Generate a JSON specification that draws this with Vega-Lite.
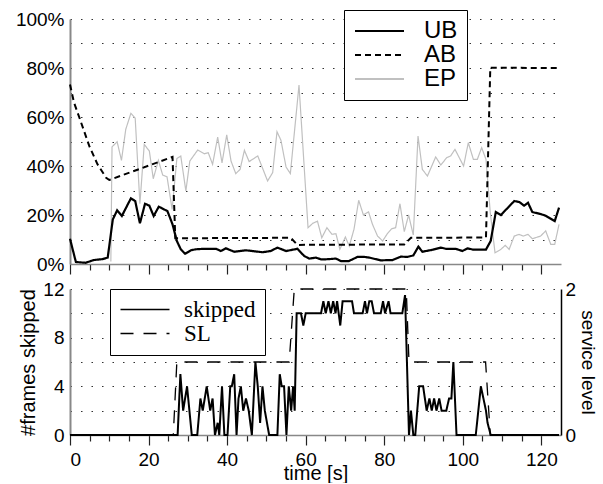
{
"$schema":"https://vega.github.io/schema/vega-lite/v6.json",
"padding":{"left":15,"top":9,"right":0,"bottom":0},
"background":"white",
"config":{"font":"Liberation Sans","view":{"stroke":null},
 "axis":{"labelFont":"Liberation Sans","titleFont":"Liberation Sans","labelFontSize":19,"titleFontSize":20,"titleFontWeight":"normal","labelColor":"#000","titleColor":"#000","domainColor":"#888","domainWidth":1.5,"tickColor":"#222","gridColor":"#333","gridDash":[1.5,9],"gridWidth":1.2,"gridOpacity":1},
 "line":{"strokeJoin":"miter","strokeCap":"butt"}},
"datasets":{
"top":[
{"t":0,"s":"UB","v":10.3},{"t":1.5,"s":"UB","v":0.8},{"t":4,"s":"UB","v":0.5},{"t":6,"s":"UB","v":1.6},{"t":8.3,"s":"UB","v":2},{"t":9.6,"s":"UB","v":2.6},{"t":10.9,"s":"UB","v":18.2},{"t":12,"s":"UB","v":21.9},{"t":13.2,"s":"UB","v":19.6},{"t":15.5,"s":"UB","v":26.8},{"t":16.6,"s":"UB","v":25.7},{"t":17.8,"s":"UB","v":16.6},{"t":19.1,"s":"UB","v":24.6},{"t":20.2,"s":"UB","v":23.8},{"t":21.3,"s":"UB","v":19.6},{"t":22.6,"s":"UB","v":23.4},{"t":24.8,"s":"UB","v":21.6},{"t":26.1,"s":"UB","v":16.2},{"t":27.2,"s":"UB","v":9.4},{"t":28.2,"s":"UB","v":6},{"t":29.3,"s":"UB","v":4.2},{"t":30.8,"s":"UB","v":5.6},{"t":32,"s":"UB","v":6},{"t":34.2,"s":"UB","v":6.2},{"t":37.2,"s":"UB","v":6.2},{"t":38.4,"s":"UB","v":5.3},{"t":39.7,"s":"UB","v":6.4},{"t":41.8,"s":"UB","v":5},{"t":44.8,"s":"UB","v":5.6},{"t":49,"s":"UB","v":4.8},{"t":51.1,"s":"UB","v":5.3},{"t":52.8,"s":"UB","v":6.7},{"t":55,"s":"UB","v":5.3},{"t":57.9,"s":"UB","v":6.2},{"t":59.6,"s":"UB","v":3.3},{"t":60.9,"s":"UB","v":2.2},{"t":62.6,"s":"UB","v":2.6},{"t":63.9,"s":"UB","v":1.9},{"t":65.1,"s":"UB","v":1.9},{"t":67.7,"s":"UB","v":2.2},{"t":69,"s":"UB","v":1.2},{"t":71,"s":"UB","v":1.2},{"t":73.2,"s":"UB","v":2.9},{"t":74.9,"s":"UB","v":2.9},{"t":76.2,"s":"UB","v":2.6},{"t":79.1,"s":"UB","v":1.5},{"t":82.1,"s":"UB","v":1.6},{"t":84.2,"s":"UB","v":3},{"t":85.9,"s":"UB","v":2.9},{"t":87.4,"s":"UB","v":3.5},{"t":88.7,"s":"UB","v":7.1},{"t":89.7,"s":"UB","v":5},{"t":92.3,"s":"UB","v":5.8},{"t":94.4,"s":"UB","v":6.7},{"t":95.7,"s":"UB","v":6.2},{"t":98.2,"s":"UB","v":6.2},{"t":99.9,"s":"UB","v":5.3},{"t":101.2,"s":"UB","v":6.4},{"t":102.5,"s":"UB","v":5.9},{"t":105.9,"s":"UB","v":5.9},{"t":107.1,"s":"UB","v":9.4},{"t":108.4,"s":"UB","v":21.2},{"t":109.7,"s":"UB","v":20},{"t":113.1,"s":"UB","v":25.7},{"t":114.4,"s":"UB","v":25.3},{"t":115.6,"s":"UB","v":23.8},{"t":116.6,"s":"UB","v":25},{"t":117.7,"s":"UB","v":21.2},{"t":119.8,"s":"UB","v":20.4},{"t":121.1,"s":"UB","v":19.7},{"t":123.4,"s":"UB","v":17.5},{"t":124.5,"s":"UB","v":23},
{"t":0,"s":"AB","v":73.3},{"t":1,"s":"AB","v":66},{"t":2.4,"s":"AB","v":59.7},{"t":4.9,"s":"AB","v":48.2},{"t":7,"s":"AB","v":40.7},{"t":9.2,"s":"AB","v":35.2},{"t":10,"s":"AB","v":34.3},{"t":26.1,"s":"AB","v":43.7},{"t":26.8,"s":"AB","v":10.5},{"t":56.2,"s":"AB","v":10.7},{"t":57.9,"s":"AB","v":7.8},{"t":85.1,"s":"AB","v":8},{"t":86.8,"s":"AB","v":10.7},{"t":105.9,"s":"AB","v":10.8},{"t":107,"s":"AB","v":80.1},{"t":124.5,"s":"AB","v":80},
{"t":10.4,"s":"EP","v":1},{"t":10.7,"s":"EP","v":47.8},{"t":12,"s":"EP","v":49.9},{"t":13.1,"s":"EP","v":42.3},{"t":14.2,"s":"EP","v":55},{"t":15.5,"s":"EP","v":61.5},{"t":16.6,"s":"EP","v":59.5},{"t":17.8,"s":"EP","v":24.6},{"t":18.9,"s":"EP","v":48.8},{"t":20.2,"s":"EP","v":46.1},{"t":21.2,"s":"EP","v":34.8},{"t":22.5,"s":"EP","v":42.3},{"t":23.6,"s":"EP","v":36.3},{"t":24.7,"s":"EP","v":35.6},{"t":26,"s":"EP","v":22.3},{"t":27.2,"s":"EP","v":43},{"t":28.2,"s":"EP","v":44.1},{"t":29.5,"s":"EP","v":29.8},{"t":30.5,"s":"EP","v":42},{"t":32.5,"s":"EP","v":46.5},{"t":34.2,"s":"EP","v":45},{"t":35.2,"s":"EP","v":45.4},{"t":36.3,"s":"EP","v":40.7},{"t":37.6,"s":"EP","v":51.8},{"t":38.7,"s":"EP","v":41.3},{"t":39.9,"s":"EP","v":52.7},{"t":41,"s":"EP","v":42},{"t":42.2,"s":"EP","v":36.9},{"t":43.3,"s":"EP","v":38.6},{"t":44.4,"s":"EP","v":46.4},{"t":45.6,"s":"EP","v":41.8},{"t":47.8,"s":"EP","v":44.1},{"t":50.3,"s":"EP","v":33.9},{"t":51.6,"s":"EP","v":37.3},{"t":52.7,"s":"EP","v":54},{"t":53.7,"s":"EP","v":50.5},{"t":55,"s":"EP","v":39.6},{"t":56.1,"s":"EP","v":36.9},{"t":58.3,"s":"EP","v":73},{"t":60.6,"s":"EP","v":14.8},{"t":61.8,"s":"EP","v":16.6},{"t":63,"s":"EP","v":17.5},{"t":64.1,"s":"EP","v":10.7},{"t":65.4,"s":"EP","v":14.8},{"t":66.7,"s":"EP","v":12.1},{"t":67.7,"s":"EP","v":12.4},{"t":68.7,"s":"EP","v":6},{"t":70.1,"s":"EP","v":11},{"t":71.1,"s":"EP","v":7.3},{"t":72.3,"s":"EP","v":14.2},{"t":73.5,"s":"EP","v":26},{"t":74.7,"s":"EP","v":20},{"t":76,"s":"EP","v":21.3},{"t":77,"s":"EP","v":16.2},{"t":78.3,"s":"EP","v":11.4},{"t":79.6,"s":"EP","v":9.4},{"t":80.8,"s":"EP","v":12.4},{"t":81.9,"s":"EP","v":14.4},{"t":82.9,"s":"EP","v":14.8},{"t":84,"s":"EP","v":24.6},{"t":85.1,"s":"EP","v":13.2},{"t":86.2,"s":"EP","v":20},{"t":87.4,"s":"EP","v":11.8},{"t":88.6,"s":"EP","v":52.2},{"t":89.7,"s":"EP","v":38.6},{"t":91,"s":"EP","v":35.9},{"t":93.1,"s":"EP","v":43.7},{"t":94.4,"s":"EP","v":40.4},{"t":95.9,"s":"EP","v":43.4},{"t":96.9,"s":"EP","v":44.1},{"t":98,"s":"EP","v":46.8},{"t":99.1,"s":"EP","v":43.4},{"t":100.2,"s":"EP","v":40},{"t":101.4,"s":"EP","v":49.5},{"t":102.7,"s":"EP","v":42.7},{"t":103.7,"s":"EP","v":42.7},{"t":104.8,"s":"EP","v":47.5},{"t":105.9,"s":"EP","v":42.7},{"t":107,"s":"EP","v":20.9},{"t":108.2,"s":"EP","v":4.6},{"t":109.7,"s":"EP","v":6},{"t":110.8,"s":"EP","v":7.6},{"t":111.8,"s":"EP","v":6},{"t":113.1,"s":"EP","v":11.4},{"t":114.3,"s":"EP","v":12.1},{"t":115.4,"s":"EP","v":11.4},{"t":116.6,"s":"EP","v":12.1},{"t":117.7,"s":"EP","v":10.3},{"t":119.8,"s":"EP","v":11.4},{"t":121.1,"s":"EP","v":13.5},{"t":122.4,"s":"EP","v":8},{"t":123.4,"s":"EP","v":8},{"t":124.5,"s":"EP","v":16.2}
],
"bottom":[
{"t":0,"k":"skipped","v":0},{"t":27.4,"k":"skipped","v":0},{"t":28.1,"k":"skipped","v":5},{"t":28.8,"k":"skipped","v":2},{"t":29.8,"k":"skipped","v":4},{"t":31,"k":"skipped","v":0},{"t":32.4,"k":"skipped","v":0},{"t":33.2,"k":"skipped","v":3},{"t":33.8,"k":"skipped","v":2},{"t":34.8,"k":"skipped","v":4},{"t":35.7,"k":"skipped","v":2},{"t":36.3,"k":"skipped","v":3},{"t":36.9,"k":"skipped","v":0},{"t":37.6,"k":"skipped","v":1},{"t":38,"k":"skipped","v":0},{"t":38.7,"k":"skipped","v":4},{"t":39.3,"k":"skipped","v":0},{"t":40.1,"k":"skipped","v":0},{"t":40.8,"k":"skipped","v":4},{"t":41.2,"k":"skipped","v":4},{"t":41.8,"k":"skipped","v":5},{"t":42.4,"k":"skipped","v":0},{"t":42.9,"k":"skipped","v":3},{"t":43.5,"k":"skipped","v":4},{"t":44.1,"k":"skipped","v":2},{"t":44.8,"k":"skipped","v":3},{"t":45.5,"k":"skipped","v":2},{"t":46.3,"k":"skipped","v":0},{"t":47.2,"k":"skipped","v":6},{"t":47.8,"k":"skipped","v":4},{"t":48.4,"k":"skipped","v":1},{"t":49,"k":"skipped","v":4},{"t":49.6,"k":"skipped","v":2},{"t":50.7,"k":"skipped","v":0},{"t":52.8,"k":"skipped","v":0},{"t":53.4,"k":"skipped","v":5},{"t":53.9,"k":"skipped","v":4},{"t":54.5,"k":"skipped","v":4},{"t":55.1,"k":"skipped","v":0},{"t":55.7,"k":"skipped","v":4},{"t":56.3,"k":"skipped","v":2},{"t":56.8,"k":"skipped","v":4},{"t":57.2,"k":"skipped","v":2},{"t":57.7,"k":"skipped","v":10},{"t":58.8,"k":"skipped","v":10},{"t":59.4,"k":"skipped","v":9},{"t":60,"k":"skipped","v":10},{"t":63.9,"k":"skipped","v":10},{"t":64.5,"k":"skipped","v":11},{"t":65.1,"k":"skipped","v":10},{"t":65.8,"k":"skipped","v":11},{"t":66.4,"k":"skipped","v":10},{"t":67,"k":"skipped","v":11},{"t":67.6,"k":"skipped","v":10},{"t":68,"k":"skipped","v":11},{"t":68.8,"k":"skipped","v":9},{"t":69.4,"k":"skipped","v":11},{"t":71.8,"k":"skipped","v":11},{"t":72.3,"k":"skipped","v":10},{"t":74.5,"k":"skipped","v":10},{"t":75.1,"k":"skipped","v":11},{"t":75.6,"k":"skipped","v":10},{"t":76.2,"k":"skipped","v":11},{"t":76.8,"k":"skipped","v":11},{"t":77.4,"k":"skipped","v":10},{"t":79.1,"k":"skipped","v":10},{"t":79.7,"k":"skipped","v":11},{"t":80.2,"k":"skipped","v":10},{"t":81.1,"k":"skipped","v":11},{"t":81.6,"k":"skipped","v":10},{"t":84.6,"k":"skipped","v":10},{"t":85.3,"k":"skipped","v":11.5},{"t":86.3,"k":"skipped","v":0},{"t":86.8,"k":"skipped","v":2},{"t":87.4,"k":"skipped","v":0},{"t":87.9,"k":"skipped","v":0},{"t":88.9,"k":"skipped","v":4},{"t":89.9,"k":"skipped","v":4},{"t":90.8,"k":"skipped","v":2},{"t":91.5,"k":"skipped","v":3},{"t":92.1,"k":"skipped","v":2},{"t":92.7,"k":"skipped","v":3},{"t":93.3,"k":"skipped","v":2},{"t":94,"k":"skipped","v":3},{"t":94.6,"k":"skipped","v":2},{"t":95.8,"k":"skipped","v":2},{"t":96.5,"k":"skipped","v":3},{"t":97.1,"k":"skipped","v":3},{"t":97.6,"k":"skipped","v":6},{"t":98.4,"k":"skipped","v":0},{"t":103.3,"k":"skipped","v":0},{"t":104.6,"k":"skipped","v":4},{"t":105.9,"k":"skipped","v":2},{"t":106.3,"k":"skipped","v":1},{"t":107.1,"k":"skipped","v":0},{"t":124.5,"k":"skipped","v":0},
{"t":0,"k":"SL","v":0},{"t":26.3,"k":"SL","v":0},{"t":27.2,"k":"SL","v":1},{"t":55.8,"k":"SL","v":1},{"t":57.1,"k":"SL","v":2},{"t":85.6,"k":"SL","v":2},{"t":86.3,"k":"SL","v":1},{"t":105.8,"k":"SL","v":1},{"t":107,"k":"SL","v":0},{"t":124.5,"k":"SL","v":0}
]
},
"spacing":25,
"bounds":"flush",
"resolve":{"scale":{"color":"independent","strokeDash":"independent","strokeWidth":"independent","x":"independent"},"legend":{"color":"independent","strokeDash":"independent","strokeWidth":"independent"}},
"vconcat":[
{
 "width":491,"height":245,
 "data":{"name":"top"},
 "encoding":{
  "x":{"field":"t","type":"quantitative","scale":{"domain":[0,125],"nice":false,"zero":false},
   "axis":{"values":[0,5,10,15,20,25,30,35,40,45,50,55,60,65,70,75,80,85,90,95,100,105,110,115,120],"labels":false,"title":null,"grid":false,"tickWidth":1.2,
    "tickSize":{"condition":{"test":"datum.value % 20 === 0","value":10},"value":6}}},
  "y":{"field":"v","type":"quantitative","scale":{"domain":[0,100],"nice":false},
   "axis":{"values":[0,10,20,30,40,50,60,70,80,90,100],"labelExpr":"datum.value % 20 === 0 ? datum.value + '%' : ''","ticks":false,"labelPadding":6,"grid":true,"title":null,"domainWidth":2}},
  "color":{"field":"s","type":"nominal","scale":{"domain":["UB","AB","EP"],"range":["#000000","#000000","#c0c0c0"]},
   "legend":{"title":null,"orient":"none","legendX":274,"legendY":-9,"strokeColor":"#000","fillColor":"#fff","padding":9,"labelFont":"Liberation Sans","labelFontSize":24,"labelColor":"#000","symbolType":"M-1,0H3.9","symbolSize":400,"rowPadding":0,"labelOffset":47,"symbolStrokeWidth":2}},
  "strokeDash":{"field":"s","type":"nominal","scale":{"domain":["UB","AB","EP"],"range":[[1,0],[6,4],[1,0]]},
   "legend":{"title":null,"orient":"none","legendX":274,"legendY":-9,"strokeColor":"#000","fillColor":"#fff","padding":9,"labelFont":"Liberation Sans","labelFontSize":24,"labelColor":"#000","symbolType":"M-1,0H3.9","symbolSize":400,"rowPadding":0,"labelOffset":47,"symbolStrokeWidth":2}}
 },
 "layer":[
  {"transform":[{"filter":"datum.s === 'EP'"}],"mark":{"type":"line","strokeWidth":1.2}},
  {"transform":[{"filter":"datum.s === 'AB'"}],"mark":{"type":"line","strokeWidth":2}},
  {"transform":[{"filter":"datum.s === 'UB'"}],"mark":{"type":"line","strokeWidth":2.2}}
 ]
},
{
 "width":491,"height":146,
 "data":{"name":"bottom"},
 "encoding":{
  "x":{"field":"t","type":"quantitative","scale":{"domain":[0,125],"nice":false,"zero":false},
   "axis":{"values":[0,5,10,15,20,25,30,35,40,45,50,55,60,65,70,75,80,85,90,95,100,105,110,115,120],"labelExpr":"datum.value % 20 === 0 ? datum.label : ''","labelOverlap":false,"labelPadding":5,"title":"time [s]","titlePadding":-6,"grid":false,"tickWidth":1.2,
    "tickSize":{"condition":{"test":"datum.value % 20 === 0","value":10},"value":6}}},
  "color":{"field":"k","type":"nominal","scale":{"domain":["skipped","SL"],"range":["#000000","#000000"]},
   "legend":{"title":null,"orient":"none","legendX":40,"legendY":0,"strokeColor":"#000","fillColor":"#fff","padding":9,"labelFont":"Liberation Serif","labelFontSize":23,"labelColor":"#000","symbolType":"M-1,0H3.9","symbolSize":400,"rowPadding":-3,"labelOffset":42,"symbolStrokeWidth":1.6}},
  "strokeDash":{"field":"k","type":"nominal","scale":{"domain":["skipped","SL"],"range":[[1,0],[13,10]]},
   "legend":{"title":null,"orient":"none","legendX":40,"legendY":0,"strokeColor":"#000","fillColor":"#fff","padding":9,"labelFont":"Liberation Serif","labelFontSize":23,"labelColor":"#000","symbolType":"M-1,0H3.9","symbolSize":400,"rowPadding":-3,"labelOffset":42,"symbolStrokeWidth":1.6}}
 },
 "layer":[
  {"transform":[{"filter":"datum.k === 'SL'"}],"mark":{"type":"line","strokeWidth":1.3},
   "encoding":{"y":{"field":"v","type":"quantitative","scale":{"domain":[0,2],"nice":false},
    "axis":{"orient":"right","values":[0,1,2],"format":"d","ticks":false,"labelPadding":4,"title":"service level","titleFontSize":19,"titlePadding":2,"domainColor":"#000","grid":false}}}},
  {"transform":[{"filter":"datum.k === 'skipped'"}],"mark":{"type":"line","strokeWidth":2},
   "encoding":{"y":{"field":"v","type":"quantitative","scale":{"domain":[0,12],"nice":false},
    "axis":{"values":[0,2,4,6,8,10,12],"labelExpr":"datum.value % 4 === 0 ? datum.label : ''","ticks":false,"labelPadding":6,"grid":true,"title":"#frames skipped","titlePadding":4,"domainWidth":2}}}}
 ],
 "resolve":{"scale":{"y":"independent"}}
}
]
}
